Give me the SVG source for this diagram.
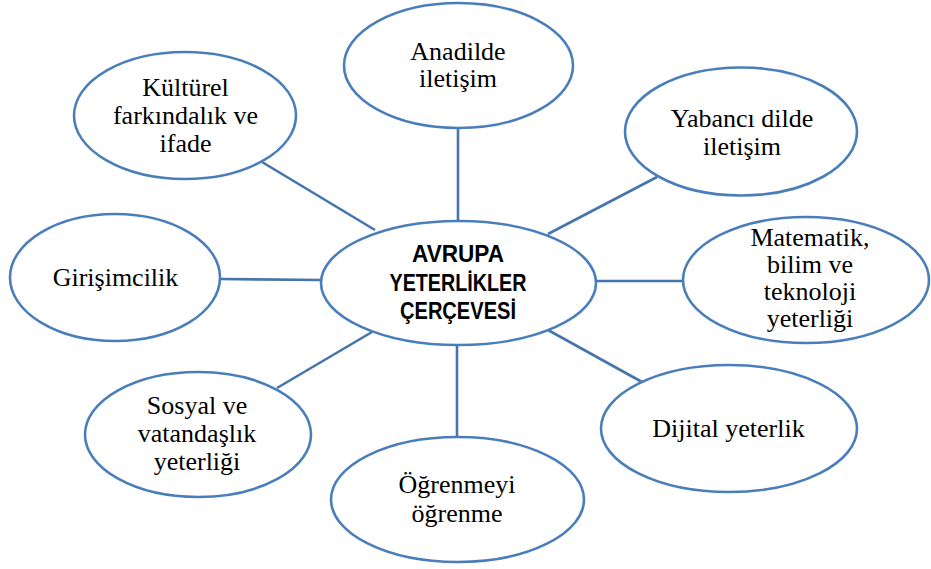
<svg xmlns="http://www.w3.org/2000/svg" width="931" height="569" viewBox="0 0 931 569">
<style>
.node ellipse{fill:#ffffff;stroke:#4a7ebb;stroke-width:2.6}
.lbl{font-family:"Liberation Serif","Times New Roman",serif;font-size:26px;fill:#000;text-anchor:middle}
.ctr{font-family:"Liberation Sans",Arial,sans-serif;font-weight:bold;font-size:23px;fill:#000;text-anchor:middle}
#connectors line{stroke:#4675ab;stroke-width:2.6}
</style>
<rect width="931" height="569" fill="#ffffff"/>
<g id="connectors">
<line x1="458" y1="128" x2="458" y2="221"/>
<line x1="262" y1="162" x2="375" y2="230"/>
<line x1="657" y1="177" x2="548" y2="234"/>
<line x1="220" y1="279" x2="322" y2="280"/>
<line x1="595" y1="281" x2="683" y2="281"/>
<line x1="277" y1="388" x2="372" y2="332"/>
<line x1="457" y1="344" x2="457" y2="437"/>
<line x1="642" y1="382" x2="548" y2="330"/>
</g>
<g id="center" class="node">
<ellipse cx="458.5" cy="283" rx="137.5" ry="62"/>
<text class="ctr" x="458" y="262" textLength="92" lengthAdjust="spacingAndGlyphs">AVRUPA</text>
<text class="ctr" x="458" y="291" textLength="137" lengthAdjust="spacingAndGlyphs">YETERLİKLER</text>
<text class="ctr" x="458" y="319" textLength="116" lengthAdjust="spacingAndGlyphs">ÇERÇEVESİ</text>
</g>
<g id="anadilde" class="node">
<ellipse cx="458.5" cy="65.5" rx="114.5" ry="62.5"/>
<text class="lbl" x="458" y="60">Anadilde</text>
<text class="lbl" x="458" y="87">iletişim</text>
</g>
<g id="kulturel" class="node">
<ellipse cx="185" cy="115.5" rx="111" ry="63.5"/>
<text class="lbl" x="185.5" y="96">Kültürel</text>
<text class="lbl" x="185.5" y="124">farkındalık ve</text>
<text class="lbl" x="185.5" y="152">ifade</text>
</g>
<g id="yabanci" class="node">
<ellipse cx="741" cy="131.5" rx="116" ry="64"/>
<text class="lbl" x="742" y="127">Yabancı dilde</text>
<text class="lbl" x="742" y="155">iletişim</text>
</g>
<g id="girisimcilik" class="node">
<ellipse cx="115" cy="277.5" rx="105" ry="63.5"/>
<text class="lbl" x="115.5" y="286">Girişimcilik</text>
</g>
<g id="matematik" class="node">
<ellipse cx="806" cy="280" rx="123" ry="63"/>
<text class="lbl" x="810" y="246">Matematik,</text>
<text class="lbl" x="810" y="273">bilim ve</text>
<text class="lbl" x="810" y="300">teknoloji</text>
<text class="lbl" x="810" y="327">yeterliği</text>
</g>
<g id="sosyal" class="node">
<ellipse cx="198" cy="434.5" rx="113" ry="62.5"/>
<text class="lbl" x="197" y="414">Sosyal ve</text>
<text class="lbl" x="197" y="442">vatandaşlık</text>
<text class="lbl" x="197" y="470">yeterliği</text>
</g>
<g id="ogrenmeyi" class="node">
<ellipse cx="457.5" cy="499.5" rx="126.5" ry="62.5"/>
<text class="lbl" x="457" y="493">Öğrenmeyi</text>
<text class="lbl" x="457" y="522">öğrenme</text>
</g>
<g id="dijital" class="node">
<ellipse cx="729" cy="428.5" rx="128" ry="63.5"/>
<text class="lbl" x="728.5" y="437">Dijital yeterlik</text>
</g>
</svg>
